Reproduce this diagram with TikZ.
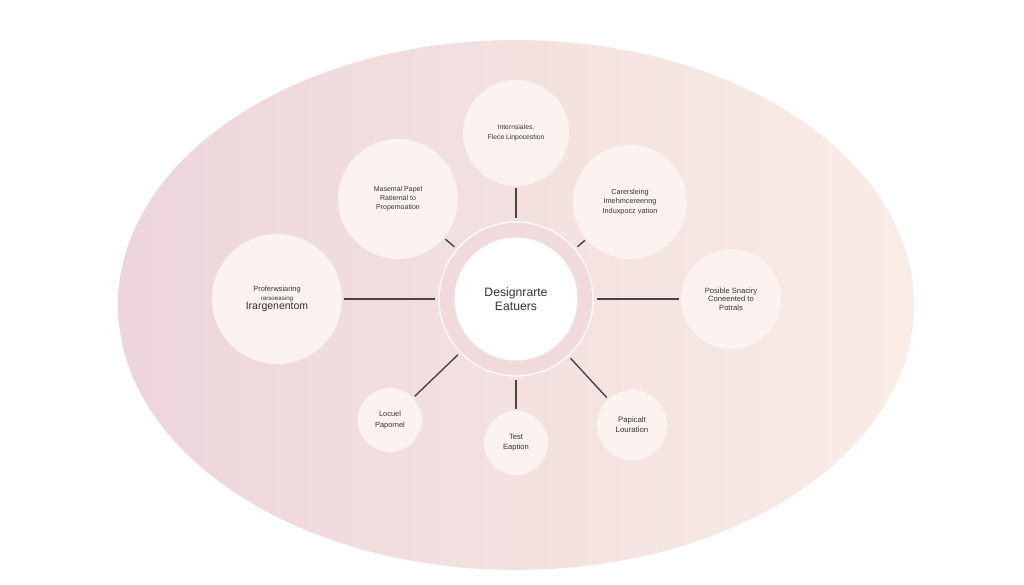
\documentclass[tikz,border=0pt]{standalone}
\usepackage{fontspec}
\setmainfont{Liberation Sans}
\definecolor{bgleft}{HTML}{EDD5DB}
\definecolor{bgright}{HTML}{F9ECE5}
\definecolor{ringpink}{HTML}{F1DADC}
\definecolor{satfill}{HTML}{FCF3F1}
\definecolor{linkgray}{HTML}{454545}
\definecolor{labeltext}{HTML}{333333}
\begin{document}
\begin{tikzpicture}[x=1pt,y=-1pt]

      \useasboundingbox (0,0) rectangle (1024,585);
      \shade[left color=bgleft,right color=bgright] (516,305) ellipse [x radius=398,y radius=265];

      % hub
      \node[circle,fill=ringpink,draw=white,line width=1.2pt,minimum size=154pt] (hub) at (516,299) {};
      \node[circle,fill=white,minimum size=123pt,align=center,text=labeltext,
            font=\fontsize{12.2}{14.5}\selectfont] (core) at (516,299) {Designrarte\\Eatuers};

      \begin{scope}[every node/.style={circle,fill=satfill,inner sep=0pt,align=center,text=labeltext,
                                       font=\fontsize{7}{8.9}\selectfont}]
        \node[minimum size=106pt,font=\fontsize{6.8}{9.6}\selectfont] (top) at (516,133) {Internsiales,\\Flece Linpocestion};
        \node[minimum size=120pt] (ul)  at (398,199) {Masemal Papel\\Ratiernal to\\Propemoation};
        \node[minimum size=114pt,font=\fontsize{7.3}{9.2}\selectfont] (ur) at (630,202) {Carersleing\\Imehmcereenng\\Induxpocz vation};
        \node[minimum size=130pt] (lft) at (277,299)
          {\fontsize{7.4}{8.5}\selectfont Proferwsiaring\\\fontsize{6.2}{8}\selectfont rarsoeasing\\\fontsize{10.5}{11}\selectfont Irargenentom};
        \node[minimum size=100pt,font=\fontsize{7.6}{8.6}\selectfont] (rgt) at (731,299) {Posible Snaciry\\Coneented to\\Potrals};
        \node[minimum size=64pt,font=\fontsize{7.4}{10.5}\selectfont] (ll) at (390,420) {Locuel\\Papornel};
        \node[minimum size=64pt,font=\fontsize{7.6}{10}\selectfont]   (bot) at (516,443) {Test\\Eaption};
        \node[minimum size=70pt,font=\fontsize{7.8}{10}\selectfont]   (lr) at (632,425) {Papicalt\\Louration};
      \end{scope}

      \begin{scope}[every edge/.style={draw=linkgray,line width=1.4pt,shorten <=2pt,shorten >=3pt}]
        \path (top) edge (hub);
        \path (ul)  edge (hub);
        \path (ur)  edge (hub);
        \path (lft) edge (hub);
        \path (rgt) edge (hub);
        \path (ll)  edge (hub);
        \path (bot) edge (hub);
        \path (lr)  edge (hub);
      \end{scope}

    \end{tikzpicture}
\end{document}
